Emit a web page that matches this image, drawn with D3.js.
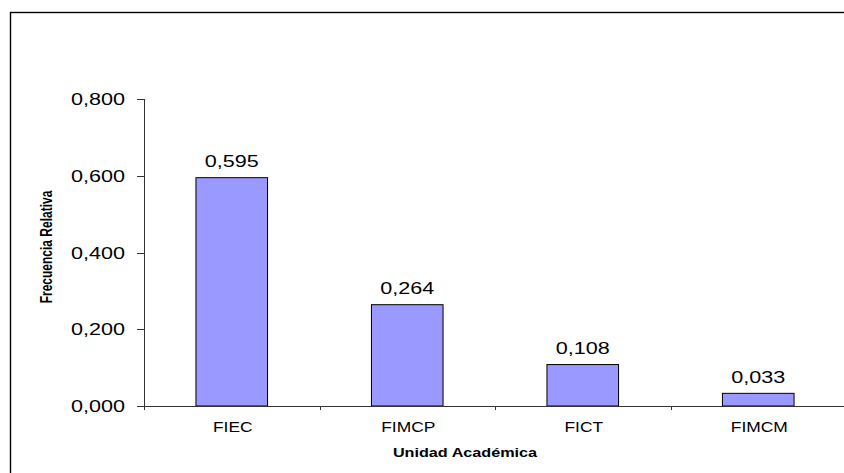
<!DOCTYPE html>
<html>
<head>
<meta charset="utf-8">
<script src="https://cdn.jsdelivr.net/npm/d3@7"></script>
<style>
  body { margin: 0; background: #fff; }
  svg { display: block; font-family: "Liberation Sans", Arial, sans-serif; }
</style>
</head>
<body>
<svg id="chart" width="844" height="473"></svg>
<script>
const categories = ['FIEC', 'FIMCP', 'FICT', 'FIMCM'];
const values = [0.595, 0.264, 0.108, 0.033];
const yTicks = [0, 0.2, 0.4, 0.6, 0.8];

const svg = d3.select('#chart');
const width = 844, height = 473;
const margin = {top: 99, right: -2, bottom: 67, left: 144};

const locale = d3.formatLocale({decimal: ',', thousands: '.', grouping: [3], currency: ['', '']});
const fmt = locale.format('.3f');

// chart frame (runs off the right and bottom edge)
svg.append('rect')
  .attr('x', 10.5)
  .attr('y', 12.5)
  .attr('width', width + 20)
  .attr('height', height + 20)
  .attr('fill', 'none')
  .attr('stroke', '#000')
  .attr('stroke-width', 1.4);

const x = d3.scaleBand()
  .domain(categories)
  .range([margin.left, width - margin.right]);

const y = d3.scaleLinear()
  .domain([0, 0.8])
  .range([height - margin.bottom, margin.top]);

const y0 = y(0);
const stretch = 1.35;

// y axis
svg.append('line')
  .attr('x1', margin.left + 0.5).attr('x2', margin.left + 0.5)
  .attr('y1', y(0.8)).attr('y2', y0 + 4)
  .attr('stroke', '#333');

svg.selectAll('.ytick')
  .data(yTicks)
  .join('line')
  .attr('class', 'ytick')
  .attr('x1', margin.left - 7).attr('x2', margin.left)
  .attr('y1', d => Math.round(y(d)) + 0.5)
  .attr('y2', d => Math.round(y(d)) + 0.5)
  .attr('stroke', '#333');

svg.selectAll('.ylab')
  .data(yTicks)
  .join('text')
  .attr('class', 'ylab')
  .attr('transform', d => `translate(125,${y(d) + 6}) scale(${stretch},1)`)
  .attr('text-anchor', 'end')
  .attr('font-size', 16)
  .attr('fill', '#000')
  .text(d => fmt(d));

// bars
const barW = x.bandwidth() * 0.408;
svg.selectAll('.bar')
  .data(categories)
  .join('rect')
  .attr('class', 'bar')
  .attr('x', (d, i) => x(d) + (x.bandwidth() - barW) / 2)
  .attr('y', (d, i) => y(values[i]))
  .attr('width', barW)
  .attr('height', (d, i) => y0 - y(values[i]))
  .attr('fill', '#9999FF')
  .attr('stroke', '#000')
  .attr('stroke-width', 1);

// value labels
svg.selectAll('.vlab')
  .data(categories)
  .join('text')
  .attr('class', 'vlab')
  .attr('transform', (d, i) => `translate(${x(d) + x.bandwidth() / 2},${y(values[i]) - 10.5}) scale(${stretch},1)`)
  .attr('text-anchor', 'middle')
  .attr('font-size', 16)
  .attr('fill', '#000')
  .text((d, i) => fmt(values[i]));

// x axis
svg.append('line')
  .attr('x1', margin.left).attr('x2', width)
  .attr('y1', Math.round(y0) + 0.5).attr('y2', Math.round(y0) + 0.5)
  .attr('stroke', '#333');

const bounds = categories.map(d => x(d)).concat([x.range()[1]]);
svg.selectAll('.xtick')
  .data(bounds)
  .join('line')
  .attr('class', 'xtick')
  .attr('x1', d => Math.round(d) + 0.5).attr('x2', d => Math.round(d) + 0.5)
  .attr('y1', y0).attr('y2', y0 + 4)
  .attr('stroke', '#333');

svg.selectAll('.xlab')
  .data(categories)
  .join('text')
  .attr('class', 'xlab')
  .attr('transform', d => `translate(${x(d) + x.bandwidth() / 2 + 1},432) scale(1.16,1)`)
  .attr('text-anchor', 'middle')
  .attr('font-size', 15)
  .attr('fill', '#000')
  .text(d => d);

// axis titles
svg.append('text')
  .attr('transform', `translate(465,457) scale(${stretch},1.05)`)
  .attr('text-anchor', 'middle')
  .attr('font-size', 12)
  .attr('font-weight', 'bold')
  .attr('fill', '#000')
  .text('Unidad Académica');

svg.append('text')
  .attr('transform', `translate(52,247) scale(${stretch},1) rotate(-90)`)
  .attr('text-anchor', 'middle')
  .attr('font-size', 12)
  .attr('font-weight', 'bold')
  .attr('fill', '#000')
  .text('Frecuencia Relativa');
</script>
</body>
</html>
